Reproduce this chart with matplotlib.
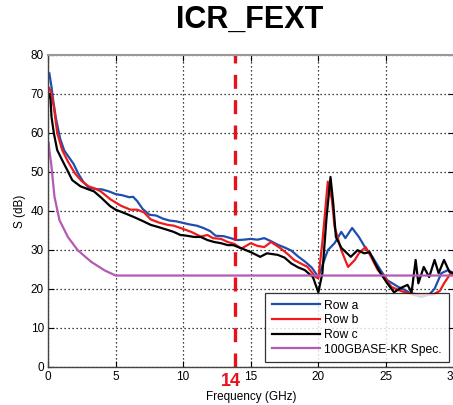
import matplotlib
matplotlib.use("Agg")
import matplotlib.pyplot as plt
from matplotlib import font_manager

names = {f.name for f in font_manager.fontManager.ttflist}
tick_font = "Liberation Sans Narrow" if "Liberation Sans Narrow" in names else "Liberation Sans"
text_font = "Liberation Sans"

# ---------------- data ----------------
title = "ICR_FEXT"
x_label = "Frequency (GHz)"
y_label = "S (dB)"
marker_freq = 13.85
marker_label = "14"
x_ticks = [0, 5, 10, 15, 20, 25, 30]
y_ticks = [0, 10, 20, 30, 40, 50, 60, 70, 80]
series_names = ["Row a", "Row b", "Row c", "100GBASE-KR Spec."]

freq_a = [0.1, 0.25, 0.4, 0.6, 0.9, 1.2, 1.5, 1.9, 2.2, 2.6, 3.0, 3.5, 4.0, 4.5, 5.0,
          5.5, 6.0, 6.3, 6.6, 7.0, 7.5, 8.0, 8.5, 9.0, 9.5, 10.0, 10.5, 11.0, 11.5,
          12.0, 12.4, 13.0, 13.5, 14.0, 14.5, 15.0, 15.5, 16.0, 16.5, 17.0, 17.5,
          18.0, 18.5, 19.0, 19.5, 20.0, 20.3, 20.7, 21.2, 21.7, 22.0, 22.5, 23.0,
          23.5, 24.0, 24.6, 25.1, 25.9, 26.4, 27.0, 27.6, 28.2, 28.6, 29.1, 29.6, 30.0]
row_a = [75.3, 72.0, 68.0, 63.5, 58.5, 55.5, 54.0, 52.0, 49.8, 47.5, 46.0, 45.6, 45.5,
         45.0, 44.3, 44.0, 43.5, 43.6, 42.5, 40.5, 39.0, 38.8, 38.0, 37.5, 37.3, 36.9,
         36.5, 36.2, 35.6, 34.8, 33.6, 33.5, 33.0, 32.5, 32.6, 32.8, 32.6, 33.0, 32.2,
         31.3, 30.6, 29.8, 28.3, 27.0, 25.5, 23.0, 26.0, 29.9, 31.7, 34.6, 33.0, 35.6,
         33.3, 30.4, 28.2, 24.8, 22.2, 20.5, 19.7, 18.5, 17.9, 18.5, 20.0, 24.0, 24.8, 24.0]

freq_b = [0.1, 0.25, 0.43, 0.68, 1.05, 1.5, 2.0, 2.5, 3.0, 3.5, 3.9, 4.6, 5.4, 6.1,
          6.6, 7.1, 7.6, 8.2, 8.85, 9.3, 9.8, 10.6, 11.3, 11.8, 12.2, 12.8, 13.3,
          13.8, 14.3, 15.0, 15.5, 16.0, 16.5, 17.2, 17.7, 18.2, 18.7, 19.2, 19.8,
          20.0, 20.3, 20.7, 21.0, 21.2, 21.7, 22.2, 22.7, 23.0, 23.5, 23.9, 24.4,
          24.9, 25.4, 25.9, 26.5, 27.5, 28.5, 29.0, 29.3, 29.8, 30.0]
row_b = [71.5, 70.0, 66.7, 60.0, 55.6, 52.5, 49.6, 47.6, 46.3, 45.7, 45.0, 43.0, 41.3,
         40.3, 40.3, 39.6, 37.8, 37.0, 36.4, 36.2, 35.6, 34.6, 33.4, 33.8, 33.0, 32.8,
         32.0, 31.5, 30.3, 31.7, 31.0, 30.7, 32.0, 30.4, 29.0, 27.4, 26.5, 25.6, 23.0,
         22.7, 32.0, 47.5, 43.0, 35.9, 29.9, 25.6, 27.4, 29.1, 30.7, 28.2, 24.8, 23.0,
         20.5, 19.7, 19.0, 18.5, 18.5, 19.5, 21.4, 24.0, 23.5]

freq_c = [0.1, 0.19, 0.26, 0.43, 0.68, 1.05, 1.42, 1.79, 2.4, 3.0, 3.4, 3.9, 4.6, 5.0,
          5.6, 6.3, 7.0, 7.6, 8.2, 8.85, 9.3, 9.8, 10.3, 10.8, 11.3, 11.8, 12.3, 12.8,
          13.3, 13.7, 14.3, 15.0, 15.7, 16.2, 17.0, 17.5, 18.0, 18.5, 19.0, 19.6, 20.0,
          20.3, 20.6, 20.9, 21.1, 21.3, 21.7, 22.4, 22.9, 23.4, 23.8, 24.2, 24.6, 25.1,
          25.6, 26.1, 26.6, 26.9, 27.2, 27.4, 27.8, 28.2, 28.6, 28.9, 29.3, 29.7, 30.0]
row_c = [70.0, 68.4, 64.1, 60.0, 55.6, 53.0, 50.5, 47.9, 46.3, 45.5, 45.0, 43.5, 41.2,
         40.3, 39.5, 38.5, 37.4, 36.4, 35.8, 35.1, 34.6, 33.8, 33.6, 33.3, 33.3, 32.5,
         32.0, 31.7, 31.2, 31.2, 30.4, 29.4, 28.2, 29.1, 28.7, 28.0, 26.5, 25.5, 24.8,
         23.0, 19.1, 24.0, 38.0, 48.7, 42.0, 33.3, 30.5, 28.2, 29.9, 29.1, 29.4, 26.5,
         24.0, 21.4, 19.1, 20.2, 21.0, 19.1, 27.4, 21.4, 25.6, 23.0, 27.4, 24.0, 27.4,
         24.3, 24.0]

freq_spec = [0.05, 0.1, 0.24, 0.48, 0.85, 1.47, 2.2, 3.2, 4.2, 5.0, 30.0]
spec = [57.5, 55.5, 52.0, 43.6, 37.6, 33.3, 29.9, 26.9, 24.7, 23.4, 23.4]

# ---------------- figure ----------------
W, H = 453, 405
fig = plt.figure(figsize=(W / 100, H / 100), dpi=100)
ax = fig.add_axes([48 / W, 38.3 / H, 405.5 / W, 311.7 / H])

lw = 1.6
ax.plot(freq_a, row_a, color="#1f4fae", lw=lw, label=series_names[0])
ax.plot(freq_b, row_b, color="#ee1c1c", lw=lw, label=series_names[1])
ax.plot(freq_c, row_c, color="#000000", lw=lw, label=series_names[2])
ax.plot(freq_spec, spec, color="#b35ab3", lw=lw, label=series_names[3])

ax.axvline(marker_freq, color="#e8101c", lw=2.4, dashes=(4.2, 3.4))

ax.set_xlim(0, 30)
ax.set_ylim(0, 80)
ax.set_xticks(x_ticks)
ax.set_yticks(y_ticks)
ax.grid(True, color="black", linestyle=(0, (1, 2.2)), linewidth=0.9)
ax.tick_params(direction="in", length=4, width=0.8, top=True, right=True,
               labelsize=8.5, pad=3, colors="black")
for lab in ax.get_xticklabels() + ax.get_yticklabels():
    lab.set_family(tick_font)
for s in ax.spines.values():
    s.set_color("#444444")
    s.set_linewidth(1.0)
ax.spines["top"].set_color("#999999")
ax.spines["top"].set_linewidth(1.5)

ax.set_xlabel(x_label, fontsize=8.5, family=text_font, labelpad=6)
ax.set_ylabel(y_label, fontsize=8.5, family=text_font, labelpad=3)

leg = ax.legend(loc="lower right", bbox_to_anchor=(0.988, 0.014),
                prop={"family": text_font, "size": 8.7},
                frameon=True, fancybox=False, edgecolor="black",
                borderpad=0.55, labelspacing=0.22, handlelength=4.0,
                handletextpad=0.35, borderaxespad=0.0)
leg.get_frame().set_linewidth(0.9)

fig.text(250 / W, 1 - 19.5 / H, title, ha="center", va="center",
         fontsize=22, fontweight="bold", family=text_font)
fig.text(231 / W, 1 - 381.5 / H, marker_label, ha="center", va="center",
         fontsize=13, fontweight="bold", color="#e8101c", family=text_font)

fig.savefig("out.png", dpi=100)
